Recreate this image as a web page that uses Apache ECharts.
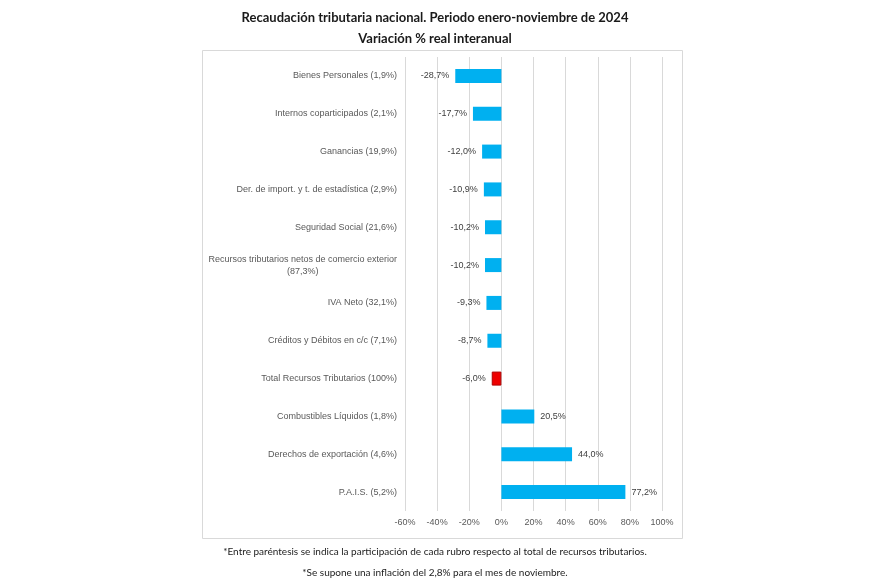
<!DOCTYPE html>
<html>
<head>
<meta charset="utf-8">
<script src="https://cdn.jsdelivr.net/npm/echarts@6/dist/echarts.min.js"></script>
<style>html,body{margin:0;padding:0;background:#fff}#c{width:870px;height:580px}</style>
</head>
<body>
<div id="c"></div>
<script>
const categories = [
  "Bienes Personales (1,9%)",
  "Internos coparticipados (2,1%)",
  "Ganancias (19,9%)",
  "Der. de import. y t. de estadística (2,9%)",
  "Seguridad Social (21,6%)",
  "Recursos tributarios netos de comercio exterior\n(87,3%)",
  "IVA Neto (32,1%)",
  "Créditos y Débitos en c/c (7,1%)",
  "Total Recursos Tributarios (100%)",
  "Combustibles Líquidos (1,8%)",
  "Derechos de exportación (4,6%)",
  "P.A.I.S. (5,2%)"
];
const values = [-28.7, -17.7, -12.0, -10.9, -10.2, -10.2, -9.3, -8.7, -6.0, 20.5, 44.0, 77.2];
const highlightIndex = 8;
const xMin = -60, xMax = 100, xStep = 20;
const titleLines = ["Recaudación tributaria nacional. Periodo enero-noviembre de 2024", "Variación % real interanual"];
const notes = ["*Entre paréntesis se indica la participación de cada rubro respecto al total de recursos tributarios.",
               "*Se supone una inflación del 2,8% para el mes de noviembre."];

const fmt = v => v.toFixed(1).replace('.', ',') + '%';
const chart = echarts.init(document.getElementById('c'), null, {renderer: 'canvas'});
chart.setOption({
  animation: false,
  backgroundColor: '#fff',
  title: [
    {text: titleLines[0], left: 'center', top: 6, textStyle: {fontFamily: 'Lato', fontWeight: 'bold', fontSize: 13, color: '#1a1a1a'}},
    {text: titleLines[1], left: 'center', top: 27, textStyle: {fontFamily: 'Lato', fontWeight: 'bold', fontSize: 13, color: '#1a1a1a'}},
    {text: notes[0], left: 'center', top: 542, textStyle: {fontFamily: 'Lato', fontWeight: 'normal', fontSize: 10, color: '#222'}},
    {text: notes[1], left: 'center', top: 563, textStyle: {fontFamily: 'Lato', fontWeight: 'normal', fontSize: 10, color: '#222'}}
  ],
  graphic: [{
    type: 'rect', left: 200, top: 48, z: -1,
    shape: {width: 480, height: 488},
    style: {fill: 'none', stroke: '#d9d9d9', lineWidth: 1}
  }],
  grid: {left: 405, right: 208, top: 57, bottom: 69, containLabel: false},
  xAxis: {
    type: 'value', min: xMin, max: xMax, interval: xStep,
    axisLine: {show: false}, axisTick: {show: false},
    splitLine: {show: true, lineStyle: {color: '#d9d9d9', width: 1}},
    axisLabel: {formatter: '{value}%', color: '#595959', fontSize: 9, fontFamily: 'Liberation Sans', margin: 7}
  },
  yAxis: {
    type: 'category', data: categories, inverse: true,
    axisLine: {show: false}, axisTick: {show: false},
    axisLabel: {
      color: '#595959', fontSize: 9, fontFamily: 'Liberation Sans', margin: 8,
      formatter: v => v.split('\n').map(s => '{c|' + s + '}').join('\n'),
      rich: {c: {align: 'center', color: '#595959', fontSize: 9, fontFamily: 'Liberation Sans', lineHeight: 12}}
    }
  },
  series: [{
    type: 'bar', barWidth: 14,
    data: values.map((v, i) => ({
      value: v,
      itemStyle: i === highlightIndex ? {color: '#ee0000', borderColor: '#b00000', borderWidth: 1} : {color: '#00b0f0'},
      label: {position: v < 0 ? 'left' : 'right'}
    })),
    label: {show: true, formatter: p => fmt(p.value), color: '#404040', fontSize: 9, fontFamily: 'Liberation Sans', distance: 6}
  }]
});
</script>
</body>
</html>
